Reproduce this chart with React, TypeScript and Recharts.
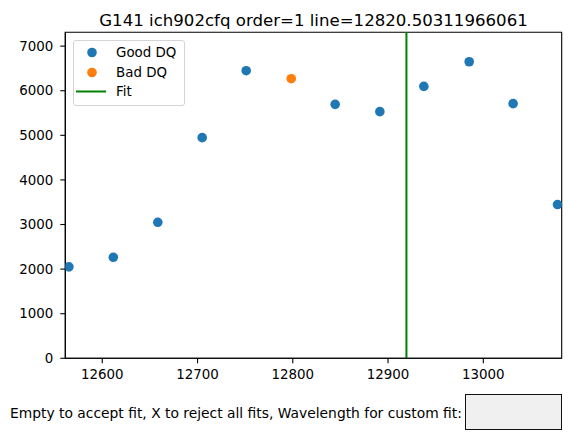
import { ScatterChart, Scatter, XAxis, YAxis, ReferenceLine, ReferenceArea, Legend } from 'recharts';

const goodX = [12565, 12611.6, 12658.3, 12704.9, 12751.1, 12844.5, 12891.4, 12937.6, 12985.2, 13031.3, 13077.9];
const goodY = [2051, 2265, 3050, 4948, 6449, 5694, 5531, 6097, 6650, 5710, 3448];
const badX = [12798.4];
const badY = [6270];
const fitLine = 12919.3;

const xTicks = [12600, 12700, 12800, 12900, 13000];
const yTicks = [0, 1000, 2000, 3000, 4000, 5000, 6000, 7000];
const xDomain = [12561.2, 13082.3];
const yDomain = [0, 7310];

const title = 'G141 ich902cfq order=1 line=12820.50311966061';
const prompt = 'Empty to accept fit, X to reject all fits, Wavelength for custom fit:';

const goodData = goodX.map((x, i) => ({ x, y: goodY[i] }));
const badData = badX.map((x, i) => ({ x, y: badY[i] }));

const font = '"DejaVu Sans", sans-serif';

const dot = (color: string) => (props: any) =>
  <circle cx={props.cx} cy={props.cy} r={4.8} fill={color} />;

function LegendBox() {
  const rows = [
    { name: 'Good DQ', color: '#1f77b4', kind: 'dot' },
    { name: 'Bad DQ', color: '#ff7f0e', kind: 'dot' },
    { name: 'Fit', color: 'green', kind: 'line' },
  ];
  return (
    <div style={{
      width: 112, height: 66, border: '1px solid #d4d4d4', borderRadius: 3,
      background: 'rgba(255,255,255,0.8)', boxSizing: 'border-box', paddingTop: 2,
    }}>
      {rows.map((r) => (
        <div key={r.name} style={{ display: 'flex', alignItems: 'center', height: 19.5 }}>
          <svg width={42} height={19} style={{ flex: 'none' }}>
            {r.kind === 'dot'
              ? <circle cx={18} cy={9.5} r={4.8} fill={r.color} />
              : <line x1={2} x2={32} y1={9.5} y2={9.5} stroke={r.color} strokeWidth={2} />}
          </svg>
          <span style={{ fontFamily: font, fontSize: 13.4, color: '#000' }}>{r.name}</span>
        </div>
      ))}
    </div>
  );
}

export default function App() {
  return (
    <div style={{ position: 'absolute', left: 0, top: 0, width: 570, height: 445, background: '#fff', fontFamily: font }}>
      <div style={{
        position: 'absolute', left: 65, width: 497, top: 10.5, textAlign: 'center',
        fontSize: 16.6, color: '#000', whiteSpace: 'nowrap',
      }}>{title}</div>
      <ScatterChart width={570} height={445} margin={{ top: 32.3, right: 8.3, bottom: 66.7, left: 0 }}>
        <XAxis
          type="number" dataKey="x" domain={xDomain} ticks={xTicks} allowDataOverflow
          height={20} tickSize={5} tickMargin={6}
          axisLine={{ stroke: '#000', strokeWidth: 1.1 }} tickLine={{ stroke: '#000', strokeWidth: 1.1 }}
          tick={{ fill: '#000', fontSize: 13.4, fontFamily: font }}
        />
        <YAxis
          type="number" dataKey="y" domain={yDomain} ticks={yTicks} allowDataOverflow
          width={65.3} tickSize={5} tickMargin={7}
          axisLine={{ stroke: '#000', strokeWidth: 1.1 }} tickLine={{ stroke: '#000', strokeWidth: 1.1 }}
          tick={{ fill: '#000', fontSize: 13.4, fontFamily: font }}
        />
        <ReferenceArea x1={xDomain[0]} x2={xDomain[1]} y1={yDomain[0]} y2={yDomain[1]}
          fill="none" stroke="#000" strokeWidth={1.1} fillOpacity={0} />
        <ReferenceLine x={fitLine} stroke="green" strokeWidth={2} />
        <Scatter name="Good DQ" data={goodData} fill="#1f77b4" shape={dot('#1f77b4')} isAnimationActive={false} />
        <Scatter name="Bad DQ" data={badData} fill="#ff7f0e" shape={dot('#ff7f0e')} isAnimationActive={false} />
        <Legend
          layout="vertical" align="center" verticalAlign="middle"
          wrapperStyle={{ left: 73, top: 40, width: 'auto', height: 'auto' }}
          content={() => <LegendBox />}
        />
      </ScatterChart>
      <div style={{
        position: 'absolute', left: 10, top: 404, fontSize: 13.85, color: '#000', whiteSpace: 'nowrap', lineHeight: '18px',
      }}>{prompt}</div>
      <div style={{
        position: 'absolute', left: 465, top: 394, width: 97, height: 36, boxSizing: 'border-box',
        background: '#f0f0f0', border: '1.3px solid #111',
      }} />
    </div>
  );
}
